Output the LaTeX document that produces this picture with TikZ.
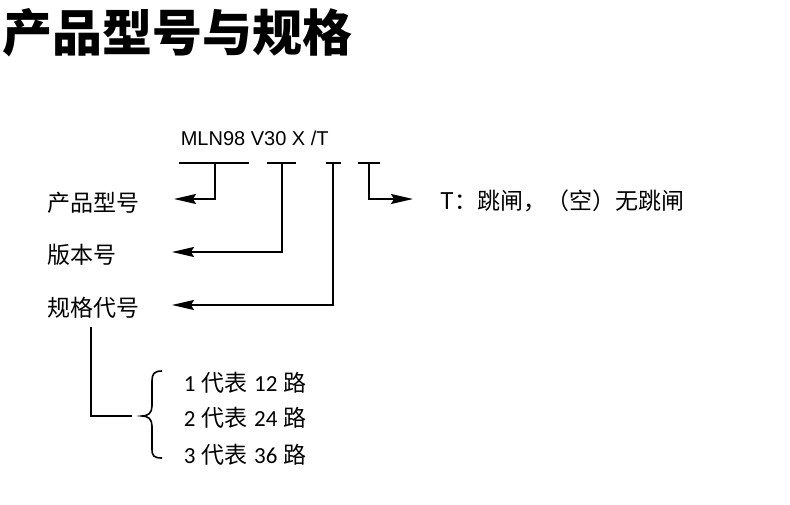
\documentclass[tikz,border=0pt]{standalone}
\usepackage{fontspec}
\setmainfont{Liberation Sans}
\newfontfamily\cjk{Noto Sans CJK SC}
\newfontfamily\carl{Carlito}
\usetikzlibrary{arrows.meta}
\begin{document}
\begin{tikzpicture}[x=1pt,y=-1pt,line width=1.6pt,
  arr/.style={-{Stealth[length=22pt,width=10pt,inset=3pt]}},
  lab/.style={font=\cjk\fontsize{23}{28}\selectfont,anchor=west,inner sep=0pt},
  code/.style={font=\fontsize{20}{24}\selectfont,anchor=base west,inner sep=0pt},
  opt/.style={font=\fontsize{23}{27}\selectfont,anchor=west,inner sep=0pt},
  ttl/.style={font=\cjk\bfseries\fontsize{50}{56}\selectfont,anchor=west,inner sep=0pt}]
\useasboundingbox (0,0) rectangle (790,505);
% title
\node[ttl] (title) at (2,33) {产品型号与规格};
% model code
\node[code] (model) at (180,146) {MLN98 V30 X /T};
% segment bars
\coordinate (b1l) at (179,163); \coordinate (b1r) at (249,163);
\coordinate (b2l) at (267,163); \coordinate (b2r) at (296,163);
\coordinate (b3l) at (326,163); \coordinate (b3r) at (341,163);
\coordinate (b4l) at (358,163); \coordinate (b4r) at (380,163);
\draw (b1l) -- (b1r);
\draw (b2l) -- (b2r);
\draw (b3l) -- (b3r);
\draw (b4l) -- (b4r);
\coordinate (s1) at (215,163);
\coordinate (s2) at (282,163);
\coordinate (s3) at (333,163);
\coordinate (s4) at (369,163);
% labels
\node[lab] (l1) at (47,203) {产品型号};
\node[lab] (l2) at (47,255) {版本号};
\node[lab] (l3) at (47,308) {规格代号};
\node[lab] (lt) at (440,201) {T：跳闸，（空）无跳闸};
% arrow tips
\coordinate (t1) at (174,199);
\coordinate (t2) at (172,252);
\coordinate (t3) at (172,305);
\coordinate (t4) at (413,199);
\draw[arr] (s1) |- (t1);
\draw[arr] (s2) |- (t2);
\draw[arr] (s3) |- (t3);
\draw[arr] (s4) |- (t4);
% spec bracket
\coordinate (c1) at (91,327);
\coordinate (c2) at (132,416);
\draw (c1) |- (c2);
\coordinate (br) at (142,416);
\draw (162,371) .. controls (154,371) and (152,374) .. (152,381) -- (152,406)
  .. controls (152,413) and (148,416) .. (br)
  .. controls (148,416) and (152,419) .. (152,426) -- (152,449)
  .. controls (152,456) and (154,458) .. (162,458);
\node[opt] (o1) at (183,383) {{\carl 1} {\cjk 代表} {\carl 12} {\cjk 路}};
\node[opt] (o2) at (183,418) {{\carl 2} {\cjk 代表} {\carl 24} {\cjk 路}};
\node[opt] (o3) at (183,455) {{\carl 3} {\cjk 代表} {\carl 36} {\cjk 路}};
\end{tikzpicture}
\end{document}
